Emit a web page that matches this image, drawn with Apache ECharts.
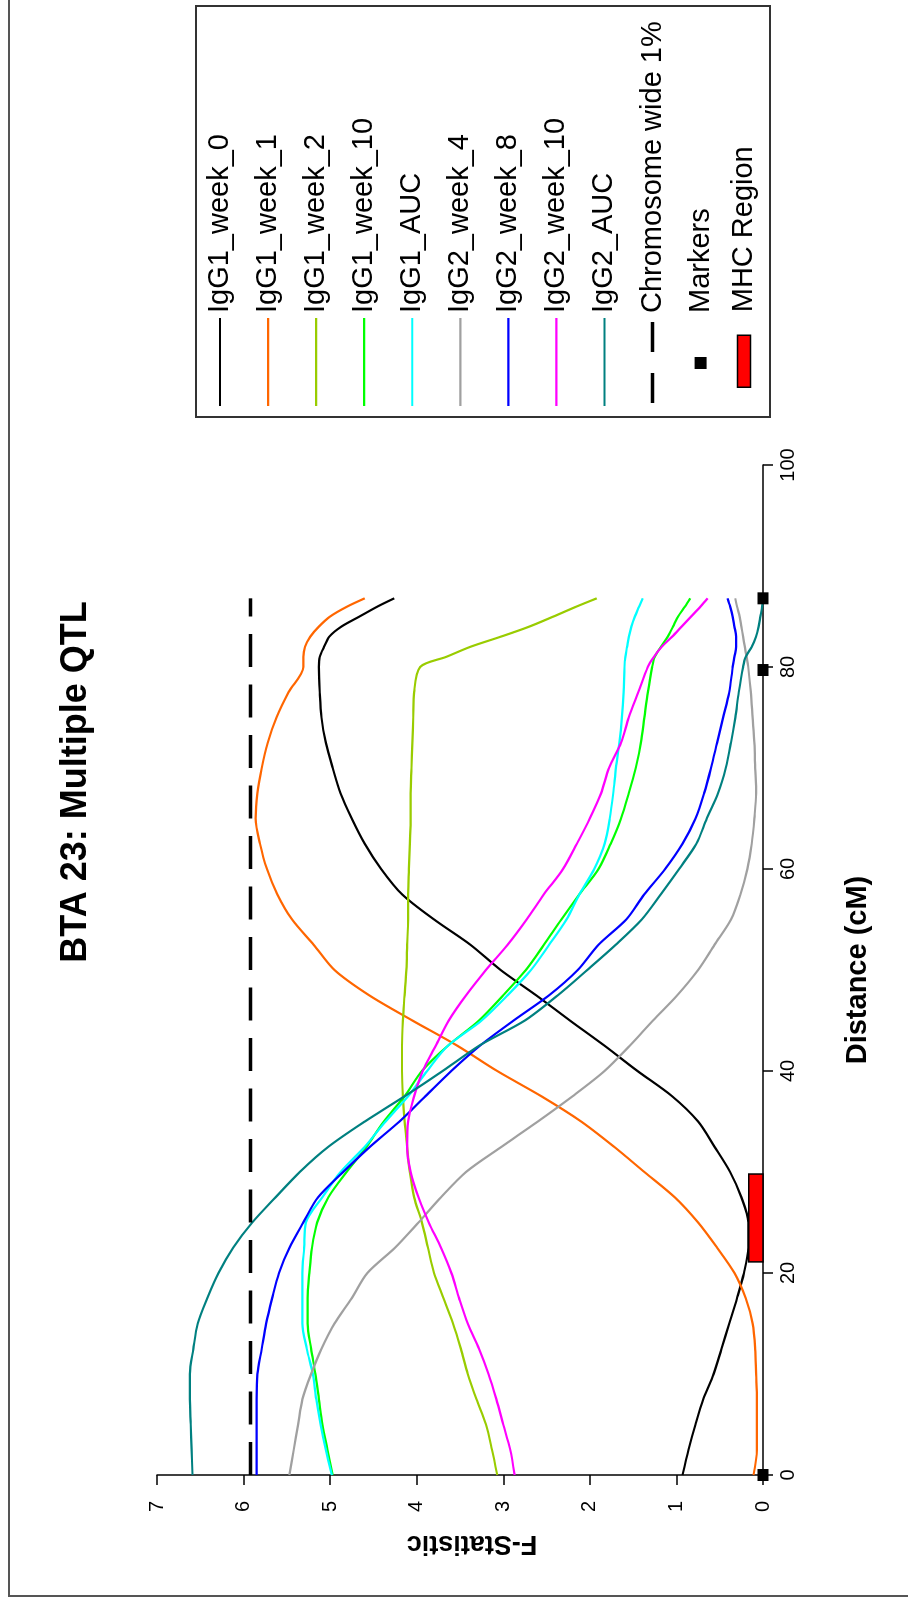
<!DOCTYPE html>
<html>
<head>
<meta charset="utf-8">
<title>BTA 23: Multiple QTL</title>
<script src="https://cdn.jsdelivr.net/npm/echarts@6/dist/echarts.min.js"></script>
<style>
html, body { margin: 0; padding: 0; background: #fff; overflow: hidden; }
#wrap {
	position: absolute; left: 0; top: 0;
	width: 1603px; height: 908px;
	transform-origin: 0 0;
	transform: translate(0, 1603px) rotate(-90deg);
}
#main { width: 1603px; height: 908px; }
</style>
</head>
<body>
<div id="wrap"><div id="main"></div></div>
<script>
// distance along the chromosome (cM)
var distance = [0, 2.5, 5, 7.5, 10, 12.5, 15, 17.5, 20, 22.5,
	25, 27.5, 30, 32.5, 35, 37.5, 40, 42.5, 45, 47.5,
	50, 52.5, 55, 57.5, 60, 62.5, 65, 67.5, 70, 72.5,
	75, 77.5, 80, 81, 82, 83, 84, 85, 86, 86.8];

// F-statistic per trait
var igg1Week0 = [0.93, 0.86, 0.78, 0.69, 0.57, 0.48, 0.39, 0.30, 0.22, 0.17,
	0.17, 0.25, 0.38, 0.56, 0.75, 1.05, 1.45, 1.83, 2.23, 2.62,
	3.03, 3.38, 3.80, 4.17, 4.41, 4.60, 4.75, 4.88, 4.97, 5.05,
	5.10, 5.12, 5.13, 5.12, 5.07, 5.01, 4.87, 4.66, 4.45, 4.26];
var igg1Week1 = [0.11, 0.07, 0.07, 0.07, 0.08, 0.09, 0.12, 0.20, 0.33, 0.53,
	0.75, 1.02, 1.37, 1.72, 2.10, 2.56, 3.07, 3.53, 4.05, 4.55,
	4.95, 5.19, 5.44, 5.61, 5.73, 5.81, 5.86, 5.84, 5.79, 5.72,
	5.62, 5.48, 5.31, 5.31, 5.29, 5.23, 5.13, 5.00, 4.80, 4.60];
var igg1Week2 = [3.07, 3.13, 3.20, 3.31, 3.41, 3.49, 3.58, 3.69, 3.80, 3.87,
	3.94, 4.03, 4.08, 4.11, 4.14, 4.16, 4.17, 4.17, 4.16, 4.14,
	4.12, 4.11, 4.10, 4.10, 4.09, 4.08, 4.07, 4.07, 4.06, 4.05,
	4.04, 4.03, 3.96, 3.66, 3.38, 3.03, 2.70, 2.42, 2.15, 1.92];
var igg1Week10 = [4.97, 5.03, 5.09, 5.13, 5.17, 5.22, 5.26, 5.26, 5.24, 5.21,
	5.15, 5.02, 4.81, 4.58, 4.38, 4.14, 3.94, 3.64, 3.28, 3.00,
	2.74, 2.53, 2.33, 2.12, 1.90, 1.76, 1.64, 1.55, 1.47, 1.41,
	1.37, 1.33, 1.28, 1.25, 1.18, 1.10, 1.04, 0.98, 0.90, 0.84];
var igg1Auc = [4.98, 5.05, 5.11, 5.16, 5.20, 5.27, 5.32, 5.32, 5.32, 5.30,
	5.28, 5.09, 4.88, 4.60, 4.36, 4.10, 3.88, 3.64, 3.25, 2.95,
	2.68, 2.47, 2.27, 2.12, 1.95, 1.83, 1.77, 1.73, 1.70, 1.66,
	1.63, 1.61, 1.60, 1.59, 1.57, 1.55, 1.52, 1.48, 1.43, 1.39];
var igg2Week4 = [5.47, 5.42, 5.37, 5.32, 5.22, 5.10, 4.95, 4.75, 4.57, 4.25,
	3.98, 3.72, 3.43, 3.02, 2.60, 2.20, 1.83, 1.54, 1.27, 0.99,
	0.75, 0.56, 0.37, 0.26, 0.18, 0.13, 0.10, 0.08, 0.09, 0.10,
	0.12, 0.14, 0.17, 0.19, 0.21, 0.23, 0.25, 0.27, 0.30, 0.32];
var igg2Week8 = [5.85, 5.85, 5.85, 5.85, 5.84, 5.79, 5.74, 5.67, 5.59, 5.47,
	5.31, 5.14, 4.85, 4.54, 4.20, 3.90, 3.60, 3.27, 2.88, 2.47,
	2.14, 1.90, 1.58, 1.37, 1.13, 0.93, 0.78, 0.68, 0.60, 0.53,
	0.46, 0.39, 0.35, 0.33, 0.31, 0.31, 0.33, 0.35, 0.38, 0.41];
var igg2Week10 = [2.87, 2.92, 3.00, 3.08, 3.17, 3.28, 3.41, 3.51, 3.60, 3.72,
	3.86, 3.98, 4.07, 4.11, 4.10, 4.03, 3.93, 3.78, 3.63, 3.43,
	3.20, 2.95, 2.73, 2.53, 2.31, 2.15, 2.00, 1.87, 1.78, 1.64,
	1.55, 1.44, 1.33, 1.26, 1.17, 1.05, 0.94, 0.83, 0.72, 0.64];
var igg2Auc = [6.59, 6.60, 6.61, 6.62, 6.62, 6.58, 6.53, 6.42, 6.29, 6.12,
	5.90, 5.63, 5.35, 5.02, 4.60, 4.14, 3.70, 3.28, 2.75, 2.37,
	2.03, 1.70, 1.40, 1.18, 0.97, 0.77, 0.65, 0.52, 0.43, 0.37,
	0.32, 0.28, 0.23, 0.20, 0.13, 0.08, 0.05, 0.03, 0.01, 0.00];

var traitNames = ['IgG1_week_0', 'IgG1_week_1', 'IgG1_week_2', 'IgG1_week_10', 'IgG1_AUC',
	'IgG2_week_4', 'IgG2_week_8', 'IgG2_week_10', 'IgG2_AUC'];
var traitValues = [igg1Week0, igg1Week1, igg1Week2, igg1Week10, igg1Auc,
	igg2Week4, igg2Week8, igg2Week10, igg2Auc];
var traitColors = ['#000000', '#ff6600', '#99cc00', '#00ff00', '#00ffff',
	'#a0a0a0', '#0000ff', '#ff00ff', '#008080'];

// threshold, markers and MHC region
var thresholdValue = 5.92;
var thresholdRange = [0, 86.8];
var markerPositions = [0, 79.7, 86.8];
var mhcRegion = [21.1, 29.8, 0.165];   // start cM, end cM, bar height

var xTicks = { min: 0, max: 100, interval: 20 };
var yTicks = { min: 0, max: 7, interval: 1 };

var font = "'Liberation Sans', Arial, sans-serif";

// legend icons (88 x 14 box, corner points fix the bounding box)
var box = 'M0,0L0,0M88,14L88,14';
var lineIcon = 'path://' + box + 'M0,5.9L88,5.9L88,8.1L0,8.1Z';
var dashIcon = 'path://' + box + 'M3,5.25L33,5.25L33,8.75L3,8.75ZM54,5.25L84,5.25L84,8.75L54,8.75Z';
var markerIcon = 'path://' + box + 'M37,1L49,1L49,13L37,13Z';
var mhcIcon = 'path://' + box + 'M18,0.5L70,0.5L70,13.5L18,13.5Z';

var series = traitNames.map(function (n, i) {
	return {
		name: n,
		type: 'line',
		symbol: 'none',
		smooth: 0.3,
		data: distance.map(function (d, j) { return [d, traitValues[i][j]]; }),
		lineStyle: { color: traitColors[i], width: 2.2 },
		itemStyle: { color: traitColors[i] },
		z: 2
	};
});

series.push({
	name: 'Chromosome wide 1%',
	type: 'line',
	symbol: 'none',
	data: thresholdRange.map(function (d) { return [d, thresholdValue]; }),
	lineStyle: { color: '#000', width: 3.5, type: [33, 17.5] },
	itemStyle: { color: '#000' },
	z: 3
});

series.push({
	name: 'MHC Region',
	type: 'custom',
	data: [mhcRegion],
	encode: { x: [0, 1], y: 2 },
	itemStyle: { color: '#ff0000', borderColor: '#000', borderWidth: 1.5 },
	renderItem: function (params, api) {
		var p0 = api.coord([api.value(0), api.value(2)]);
		var p1 = api.coord([api.value(1), 0]);
		return {
			type: 'rect',
			shape: { x: p0[0], y: p0[1], width: p1[0] - p0[0], height: p1[1] - p0[1] },
			style: { fill: '#ff0000', stroke: '#000', lineWidth: 1.5 }
		};
	},
	z: 4
});

series.push({
	name: 'Markers',
	type: 'scatter',
	symbol: 'rect',
	symbolSize: [12, 11],
	data: markerPositions.map(function (d) { return [d, 0]; }),
	itemStyle: { color: '#000', opacity: 1 },
	clip: false,
	z: 5
});

var legendItems = traitNames.map(function (n, i) {
	return { name: n, icon: lineIcon, itemStyle: { color: traitColors[i], borderWidth: 0, opacity: 1 } };
});
legendItems.push({ name: 'Chromosome wide 1%', icon: dashIcon, itemStyle: { color: '#000', borderWidth: 0, opacity: 1 } });
legendItems.push({ name: 'Markers', icon: markerIcon, itemStyle: { color: '#000', borderWidth: 0, opacity: 1 } });

var myChart = echarts.init(document.getElementById('main'), null, { width: 1603, height: 908 });

var option = {
	backgroundColor: '#fff',
	animation: false,
	title: {
		text: 'BTA 23: Multiple QTL',
		left: 821,
		textAlign: 'center',
		top: 58,
		padding: 0,
		textStyle: { fontSize: 36, fontWeight: 'bold', color: '#000', fontFamily: font }
	},
	grid: { left: 128, right: 465, top: 157, bottom: 145, containLabel: false },
	xAxis: {
		type: 'value',
		min: xTicks.min, max: xTicks.max, interval: xTicks.interval,
		name: 'Distance (cM)',
		nameLocation: 'middle',
		nameGap: 80,
		nameTextStyle: { fontSize: 29, fontWeight: 'bold', color: '#000', fontFamily: font },
		axisLine: { lineStyle: { color: '#000', width: 1.5 } },
		axisTick: { length: 10, lineStyle: { color: '#000', width: 1.5 } },
		axisLabel: { fontSize: 20, color: '#000', margin: 15, fontFamily: font },
		splitLine: { show: false }
	},
	yAxis: {
		type: 'value',
		min: yTicks.min, max: yTicks.max, interval: yTicks.interval,
		name: 'F-Statistic',
		nameLocation: 'middle',
		nameRotate: 90,
		nameGap: 55,
		nameTextStyle: { fontSize: 27, fontWeight: 'bold', color: '#000', fontFamily: font, padding: [0, 24, 0, 0] },
		axisLine: { show: true, lineStyle: { color: '#000', width: 1.5 } },
		axisTick: { show: true, length: 10, lineStyle: { color: '#000', width: 1.5 } },
		axisLabel: { fontSize: 20, color: '#000', margin: 26, fontFamily: font },
		splitLine: { show: false }
	},
	legend: [{
		orient: 'vertical',
		left: 1197,
		top: 205.5,
		padding: 0,
		itemWidth: 88,
		itemHeight: 14,
		itemGap: 19.06,
		selectedMode: false,
		textStyle: { fontSize: 29, lineHeight: 29, color: '#000', fontFamily: font },
		data: legendItems
	}, {
		orient: 'vertical',
		left: 1197,
		top: 729.5,
		padding: 0,
		itemWidth: 88,
		itemHeight: 14,
		selectedMode: false,
		textStyle: { fontSize: 29, lineHeight: 29, color: '#000', fontFamily: font },
		data: [
			{ name: 'MHC Region', icon: mhcIcon,
				itemStyle: { color: '#ff0000', borderColor: '#000', borderWidth: 1.5, opacity: 1 } }
		]
	}],
	graphic: [{
		type: 'rect',
		shape: { x: 7, y: 9, width: 1700, height: 1000 },
		style: { fill: 'none', stroke: '#555', lineWidth: 2 },
		z: 0
	}, {
		type: 'rect',
		shape: { x: 1186, y: 196, width: 411, height: 574 },
		style: { fill: 'none', stroke: '#333', lineWidth: 2 },
		z: 0
	}],
	series: series
};

myChart.setOption(option);
</script>
</body>
</html>
